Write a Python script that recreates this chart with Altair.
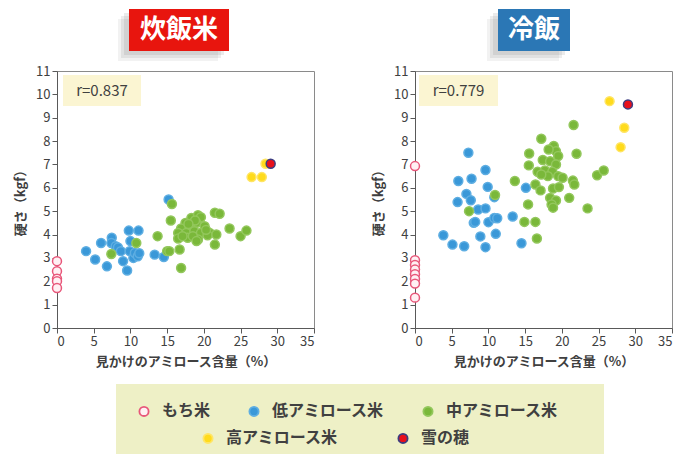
import altair as alt
import pandas as pd

# ---------------- data ----------------
categories = ["もち米", "低アミロース米", "中アミロース米", "高アミロース米", "雪の穂"]
fill_colors = ["#fff0f3", "#3a98d8", "#7ab83a", "#ffdb1c", "#e8101c"]
stroke_colors = ["#e8577a", "#5eaee2", "#93c75c", "#ffe565", "#3c3c80"]

panel_titles = ["炊飯米", "冷飯"]
r_labels = ["r=0.837", "r=0.779"]
x_title = "見かけのアミロース含量（%）"
y_title = "硬さ（kgf）"
x_ticks = [0, 5, 10, 15, 20, 25, 30, 35]
y_ticks = [0, 1, 2, 3, 4, 5, 6, 7, 8, 9, 10, 11]

# 炊飯米 (cooked rice)
cooked_mochi_x = [0, 0, 0, 0, 0]
cooked_mochi_y = [2.86, 2.43, 2.11, 2.0, 1.71]
cooked_low_x = [3.96, 5.2, 6.0, 6.8, 7.46, 7.4, 8.0, 8.3, 8.7, 9.0, 9.55, 9.78, 10.0,
                9.9, 10.4, 10.6, 11.0, 11.1, 11.2, 13.3, 14.55, 15.2]
cooked_low_y = [3.29, 2.93, 3.64, 2.64, 3.86, 3.64, 3.5, 3.45, 3.29, 2.86, 2.46, 4.17, 3.72,
                3.29, 3.0, 3.21, 3.07, 4.17, 3.2, 3.14, 3.04, 5.5]
cooked_mid_x = [7.4, 10.8, 13.7, 15.0, 15.3, 15.5, 15.65, 16.7, 16.9,
                18.3, 19.2, 19.6, 17.5, 19.0, 16.9, 18.1, 20.1, 16.5, 17.6, 18.7, 19.6,
                20.8, 16.5, 17.8, 19.2, 20.5, 21.7, 17.1, 18.5, 19.0, 18.8, 17.9, 20.3,
                21.5, 22.15, 23.5, 25.0, 25.8, 21.5]
cooked_mid_y = [3.17, 3.64, 3.93, 3.29, 3.29, 4.6, 5.31, 3.36, 2.57,
                4.71, 4.83, 4.74, 4.5, 4.5, 4.26, 4.31, 4.36, 4.07, 4.07, 4.14, 4.07,
                4.07, 3.83, 3.86, 3.79, 3.97, 4.0, 3.93, 3.93, 3.72, 4.6, 4.45, 4.2,
                4.93, 4.89, 4.26, 3.93, 4.17, 3.57]
cooked_high_x = [26.5, 27.9, 28.4]
cooked_high_y = [6.46, 6.46, 7.03]
cooked_yuki_x = [29.1]
cooked_yuki_y = [7.03]

# 冷飯 (cold rice)
cold_mochi_x = [0, 0, 0, 0, 0, 0, 0, 0]
cold_mochi_y = [6.93, 2.9, 2.7, 2.5, 2.3, 2.1, 1.9, 1.3]
cold_low_x = [3.86, 5.1, 5.8, 5.9, 6.7, 7.0, 7.27, 7.6, 7.7, 8.0, 8.2, 8.6, 8.9, 9.6,
              9.6, 9.6, 9.9, 10.0, 10.8, 10.8, 11.0, 11.2, 13.3, 14.5, 15.1]
cold_low_y = [3.97, 3.57, 5.39, 6.29, 3.5, 5.74, 7.5, 5.47, 6.39, 4.5, 4.54, 5.07, 3.92, 5.12,
              6.76, 3.46, 6.04, 4.53, 4.71, 5.6, 4.03, 4.7, 4.77, 3.63, 6.0]
cold_mid_x = [7.36, 10.9, 21.6, 17.2, 18.9, 19.2, 18.2, 15.55, 19.5, 22.0, 15.5, 17.4, 18.4,
              19.2, 16.7, 17.7, 18.7, 18.1, 19.5, 20.1, 17.2, 13.6, 16.4, 17.1, 18.8, 19.6,
              21.5, 21.7, 24.8, 25.7, 15.4, 18.4, 19.2, 21.0, 18.6, 18.8, 23.5, 14.9, 16.4,
              16.6]
cold_mid_y = [5.0, 5.69, 8.69, 8.1, 7.79, 7.57, 7.64, 7.47, 7.36, 7.46, 6.96, 7.19, 7.14,
              7.0, 6.69, 6.74, 6.69, 6.5, 6.5, 6.43, 6.57, 6.29, 6.14, 5.89, 5.97, 6.03,
              6.31, 6.14, 6.54, 6.74, 5.29, 5.57, 5.46, 5.57, 5.29, 5.15, 5.12, 4.54, 4.54,
              3.83]
cold_high_x = [26.5, 28.5, 28.0]
cold_high_y = [9.71, 8.57, 7.74]
cold_yuki_x = [29.0]
cold_yuki_y = [9.57]


def build_df(groups):
    rows = []
    for cat, (xs, ys) in zip(categories, groups):
        for x, y in zip(xs, ys):
            rows.append({"x": x, "y": y, "cat": cat})
    return pd.DataFrame(rows)


cooked_df = build_df([(cooked_mochi_x, cooked_mochi_y), (cooked_low_x, cooked_low_y),
                      (cooked_mid_x, cooked_mid_y), (cooked_high_x, cooked_high_y),
                      (cooked_yuki_x, cooked_yuki_y)])
cold_df = build_df([(cold_mochi_x, cold_mochi_y), (cold_low_x, cold_low_y),
                    (cold_mid_x, cold_mid_y), (cold_high_x, cold_high_y),
                    (cold_yuki_x, cold_yuki_y)])

JP = "Noto Sans CJK JP"
W = 257
H = 257


def panel(df, title, tcolor, tx0, tx1, r_text, rx0, rx1):
    tdf = pd.DataFrame({"t": [title]})
    rdf = pd.DataFrame({"t": [r_text]})
    layers = []
    # soft shadow behind the title box
    for dx, dy, op in [(-11, 10, 0.10), (-8, 7, 0.14), (-5, 4, 0.16)]:
        layers.append(alt.Chart(tdf).mark_rect(color="#808080", opacity=op).encode(
            x=alt.value(tx0 + dx), x2=alt.value(tx1 + dx),
            y=alt.value(-62 + dy), y2=alt.value(-20 + dy)))
    layers.append(alt.Chart(tdf).mark_rect(color=tcolor).encode(
        x=alt.value(tx0), x2=alt.value(tx1), y=alt.value(-62), y2=alt.value(-20)))
    layers.append(alt.Chart(tdf).mark_text(
        color="white", font=JP, fontSize=26, fontWeight="bold", align="center",
        baseline="middle").encode(
        x=alt.value((tx0 + tx1) / 2), y=alt.value(-41), text="t:N"))
    layers.append(alt.Chart(rdf).mark_rect(color="#fbf5d2").encode(
        x=alt.value(rx0), x2=alt.value(rx1), y=alt.value(4), y2=alt.value(35)))
    layers.append(alt.Chart(rdf).mark_text(
        color="#404040", font=JP, fontSize=15, align="center", baseline="middle").encode(
        x=alt.value((rx0 + rx1) / 2), y=alt.value(20), text="t:N"))
    pts = alt.Chart(df).mark_point(filled=True, size=80, strokeWidth=1.5, opacity=1).encode(
        x=alt.X("x:Q", scale=alt.Scale(domain=[0, 35], nice=False),
                axis=alt.Axis(values=x_ticks, title=x_title, titlePadding=7)),
        y=alt.Y("y:Q", scale=alt.Scale(domain=[0, 11], nice=False),
                axis=alt.Axis(values=y_ticks, title=y_title, titlePadding=8)),
        fill=alt.Fill("cat:N", scale=alt.Scale(domain=categories, range=fill_colors),
                      legend=None),
        stroke=alt.Stroke("cat:N", scale=alt.Scale(domain=categories, range=stroke_colors),
                          legend=None),
    )
    layers.append(pts)
    return alt.layer(*layers).properties(width=W, height=H)


left = panel(cooked_df, panel_titles[0], "#e8150e", 72, 172, r_labels[0], 6, 84)
right = panel(cold_df, panel_titles[1], "#2b77b5", 83, 155, r_labels[1], 4, 83)

top = alt.hconcat(left, right, spacing=57)

# ---------------- legend ----------------
leg_df = pd.DataFrame({"cat": categories})
LW = 547
LH = 70


def legend_layer(cats, lx, ly, colpad):
    idx = [categories.index(c) for c in cats]
    lg = alt.Legend(orient="none", legendX=lx, legendY=ly, direction="horizontal",
                    title=None, labelFont=JP, labelFontSize=16, labelFontWeight="bold",
                    labelColor="#404040", symbolSize=85, symbolStrokeWidth=1.8,
                    symbolType="circle", columnPadding=colpad, labelOffset=10, padding=0)
    return alt.Chart(leg_df).transform_filter("false").mark_point(
        filled=True, size=85, strokeWidth=1.8, opacity=1).encode(
        fill=alt.Fill("cat:N", scale=alt.Scale(domain=cats, range=[fill_colors[i] for i in idx]),
                      legend=lg),
        stroke=alt.Stroke("cat:N", scale=alt.Scale(domain=cats,
                                                   range=[stroke_colors[i] for i in idx]),
                          legend=lg),
    )


bg = alt.Chart(pd.DataFrame({"t": [""]})).mark_rect(color="#eef0c6").encode(
    x=alt.value(59), x2=alt.value(LW), y=alt.value(0), y2=alt.value(LH))

legend_chart = alt.layer(
    bg,
    legend_layer(categories[:3], 79, 19, 34),
    legend_layer(categories[3:], 143, 46, 55),
).resolve_scale(fill="independent", stroke="independent").resolve_legend(
    fill="independent", stroke="independent").properties(
    width=LW, height=LH, view=alt.ViewBackground(stroke="transparent"))

chart = alt.vconcat(top, legend_chart, spacing=14).properties(
    padding={"left": 6, "top": 0, "right": 0, "bottom": 0}
).configure_axis(
    labelFont=JP, labelFontSize=13, labelColor="#404040",
    titleFont=JP, titleFontSize=13, titleFontWeight="bold", titleColor="#404040",
    domainColor="#595959", tickColor="#595959", tickSize=5, labelPadding=2, grid=False
).configure_view(stroke="#8a8a8a", strokeWidth=1)

chart.save("out.html", embed_options={"renderer": "svg", "actions": False})
